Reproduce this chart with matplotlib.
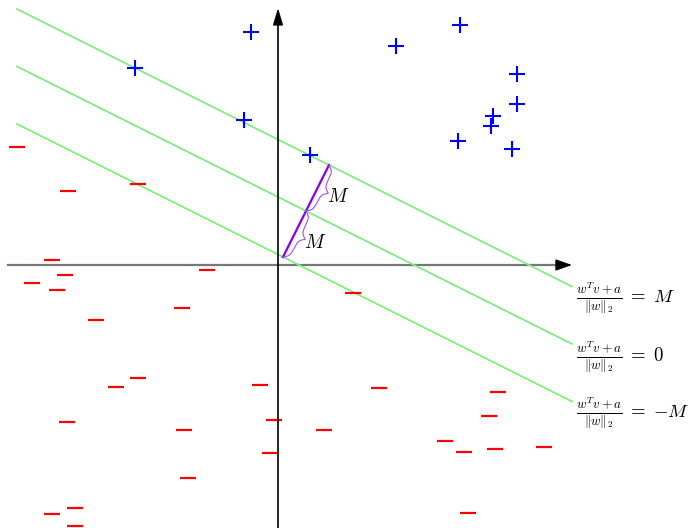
import numpy as np
import matplotlib.pyplot as plt

plt.rcParams['mathtext.fontset'] = 'cm'

# clase +1 (cruces azules)
pos_x = [-2.7, -14.3, -3.4, 3.2, 11.8, 18.2, 23.9, 23.9, 21.5, 21.3, 18.0, 23.4]
pos_y = [23.3, 19.7, 14.5, 11.0, 21.9, 24.0, 19.1, 16.1, 14.9, 13.9, 12.4, 11.6]

# clase -1 (guiones rojos)
neg_x = [-26.1, -21.0, -14.0, -22.6, -21.3, -24.6, -22.1, -7.1, -9.6, -18.2,
         -14.0, -16.2, -1.8, -21.1, -0.4, -9.4, -0.8, -9.0, -20.3, -22.6, -20.3,
         7.5, 10.1, 4.6, 22.0, 21.1, 16.7, 18.6, 21.7, 26.6, 19.0]
neg_y = [11.8, 7.4, 8.1, 0.5, -1.0, -1.8, -2.5, -0.5, -4.3, -5.5,
         -11.3, -12.2, -12.0, -15.7, -15.5, -16.5, -18.8, -21.3, -24.3, -24.9, -26.1,
         -2.8, -12.3, -16.5, -12.7, -15.1, -17.6, -18.7, -18.4, -18.2, -24.8]

# hiperplano y = pendiente*x + b, margen M (desplazamiento vertical)
pendiente = -0.5
b0 = 6.8
margen = 5.75
etiquetas = [r'$\frac{w^Tv+a}{\|w\|_2}\;=\;M$', r'$\frac{w^Tv+a}{\|w\|_2}\;=\;0$',
             r'$\frac{w^Tv+a}{\|w\|_2}\;=\;{-}M$']

fig = plt.figure(figsize=(6.96, 5.28), dpi=100)
ax = fig.add_axes([0, 0, 1, 1])
ax.set_xlim(-27.8, 41.8)
ax.set_ylim(-26.3, 26.5)
ax.axis('off')

# ejes con flecha
ax.plot([-27.0, 28.5], [0, 0], color='#777777', lw=1.6)
ax.annotate('', xy=(29.4, 0), xytext=(28.0, 0),
            arrowprops=dict(arrowstyle='-|>,head_length=1.0,head_width=0.35', color='black', lw=1.0,
                            shrinkA=0, shrinkB=0))
ax.annotate('', xy=(0, 25.7), xytext=(0, -26.3),
            arrowprops=dict(arrowstyle='-|>,head_length=1.0,head_width=0.3', color='black', lw=1.2,
                            shrinkA=0, shrinkB=0))

# lineas verdes
xs = np.array([-26.1, 29.4])
for k, et, ylab in zip([1, 0, -1], etiquetas, [-3.3, -9.2, -14.8]):
    ax.plot(xs, pendiente * xs + b0 + k * margen, color='#80ee80', lw=1.3)
    ax.text(29.8, ylab, et, fontsize=13.5, ha='left', va='center')

ax.plot(pos_x, pos_y, '+', color='blue', ms=12, mew=1.5, ls='none')
ax.plot(neg_x, neg_y, '_', color='red', ms=12, mew=1.6, ls='none')

# segmento perpendicular (morado) y llaves
x0 = 0.5
p0 = np.array([x0, pendiente * x0 + b0 - margen])
paso = np.array([-pendiente, 1.0]) * margen / (1 + pendiente ** 2)
p1 = p0 + paso
p2 = p1 + paso
ax.plot([p0[0], p2[0]], [p0[1], p2[1]], color='#8000ff', lw=1.6)

d = np.array([1.0, pendiente]) / np.sqrt(1 + pendiente ** 2)


def llave(a, b, ancho, beta=25.0):
    n = 101
    t = np.linspace(0, 0.5, n)
    mitad = 1 / (1 + np.exp(-beta * (t - t[0]))) + 1 / (1 + np.exp(-beta * (t - t[-1])))
    h = np.concatenate((mitad, mitad[-2::-1])) - 0.5
    s = np.linspace(0, 1, 2 * n - 1)
    pts = a[None, :] + s[:, None] * (b - a)[None, :] + ancho * h[:, None] * d[None, :]
    return pts


for a, b, dy in [(p0, p1, -0.3), (p1, p2, -0.35)]:
    pts = llave(a, b, 1.2)
    ax.plot(pts[:, 0], pts[:, 1], color='#a050f0', lw=0.8)
    punta = (a + b) / 2 + 1.2 * d
    ax.text(punta[0] - 0.1, punta[1] + dy, r'$M$', fontsize=14, ha='left', va='center')

fig.savefig('out.png', dpi=100)
